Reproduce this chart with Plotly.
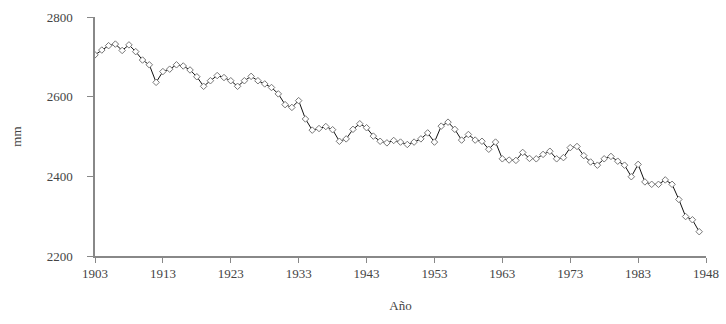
import plotly.graph_objects as go

years = list(range(1903, 1993))
rain_mm = [2705, 2717, 2728, 2732, 2716, 2730, 2713, 2692, 2680, 2636,
           2663, 2669, 2680, 2677, 2667, 2650, 2626, 2640, 2653, 2648,
           2640, 2626, 2640, 2651, 2640, 2632, 2623, 2607, 2580, 2573,
           2590, 2544, 2516, 2520, 2525, 2517, 2488, 2494, 2518, 2532,
           2522, 2501, 2488, 2484, 2490, 2486, 2480, 2486, 2494, 2509,
           2486, 2526, 2536, 2518, 2491, 2505, 2491, 2488, 2468, 2486,
           2444, 2441, 2440, 2460, 2445, 2444, 2455, 2463, 2444, 2447,
           2472, 2475, 2452, 2436, 2428, 2444, 2450, 2438, 2428, 2399,
           2430, 2386, 2380, 2380, 2391, 2380, 2342, 2299, 2291, 2261]

x_tick_vals = [1903, 1913, 1923, 1933, 1943, 1953, 1963, 1973, 1983, 1993]
x_tick_text = ["1903", "1913", "1923", "1933", "1943", "1953", "1963", "1973", "1983", "1948"]
y_tick_vals = [2200, 2400, 2600, 2800]

font = dict(family="Liberation Serif, Times New Roman, serif", size=13, color="#444444")

fig = go.Figure()
fig.add_trace(go.Scatter(
    x=years, y=rain_mm, mode="lines+markers",
    line=dict(color="#111111", width=1),
    marker=dict(symbol="diamond", size=5, color="white",
                line=dict(color="#777777", width=1)),
    showlegend=False,
))

fig.update_layout(
    width=726, height=324,
    margin=dict(l=95, r=20, t=17, b=68),
    paper_bgcolor="white", plot_bgcolor="white",
    font=font,
    xaxis=dict(
        range=[1903, 1993], tickmode="array", tickvals=x_tick_vals, ticktext=x_tick_text,
        showgrid=False, zeroline=False, showline=True, linecolor="#888888", linewidth=1.5,
        ticks="outside", ticklen=5, tickcolor="#888888", automargin=False,
        title=dict(text="Año", standoff=21, font=font),
    ),
    yaxis=dict(
        range=[2200, 2800], tickmode="array", tickvals=y_tick_vals,
        showgrid=False, zeroline=False, showline=True, linecolor="#888888", linewidth=1.5,
        ticks="outside", ticklen=6, tickcolor="#888888", ticklabelstandoff=12,
        automargin=False,
        title=dict(text="mm", standoff=22, font=font),
    ),
)

fig.write_html("out.html", config={"displayModeBar": False},
               post_script="document.body.style.margin='0';")
